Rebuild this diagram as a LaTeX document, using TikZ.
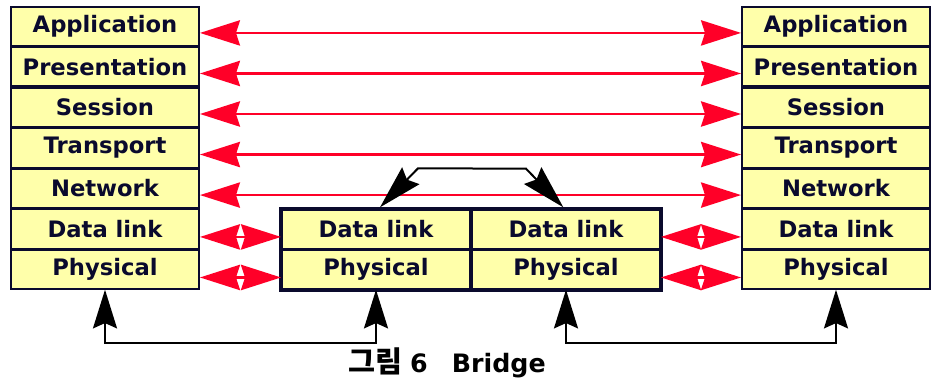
\documentclass[tikz,border=0pt]{standalone}
\usepackage{fontspec}
\setmainfont{DejaVu Sans}
\newfontfamily\krfont{Noto Sans CJK KR}
\usetikzlibrary{arrows.meta,positioning}
\definecolor{layerfill}{RGB}{255,255,170}
\definecolor{layerline}{RGB}{10,10,45}
\definecolor{arrowred}{RGB}{255,0,40}

\begin{document}
\begin{tikzpicture}[
    x=0.75pt, y=-0.75pt,
    node distance=0pt,
    font=\bfseries\fontsize{17}{20}\selectfont,
    layer/.style={
		rectangle,
		draw=layerline,
		line width=1.2pt,
		fill=layerfill,
		text=layerline,
		text centered,
		inner sep=0pt,
		minimum width=141.3pt,
		minimum height=29.2pt
	},
	redarrow/.style={
		draw=arrowred,
		line width=1.6pt,
		{Stealth[length=30pt,width=19pt,inset=3pt]}-{Stealth[length=30pt,width=19pt,inset=3pt]}
	},
	blackarrow/.style={
		draw=black,
		line width=1.5pt,
		{Stealth[length=29pt,width=18pt,inset=4pt]}-{Stealth[length=29pt,width=18pt,inset=4pt]}
	},
	relayarrow/.style={
		draw=black,
		line width=1.5pt,
		{Stealth[length=33pt,width=18pt,inset=4pt]}-{Stealth[length=33pt,width=18pt,inset=4pt]}
	}
  ]
  \useasboundingbox (0,0) rectangle (940,381);

  % left end system
  \node [layer, anchor=north west] (app1) at (10,6) {Application};
  \node [layer, below=of app1] (pre1) {Presentation};
  \node [layer, below=of pre1] (ses1) {Session};
  \node [layer, below=of ses1] (tra1) {Transport};
  \node [layer, below=of tra1] (net1) {Network};
  \node [layer, below=of net1] (dl1) {Data link};
  \node [layer, below=of dl1] (ph1) {Physical};

  % bridge
  \node [layer, right=60.75pt of dl1] (bdl1) {Data link};
  \node [layer, below=of bdl1] (bph1) {Physical};
  \node [layer, right=of bdl1] (bdl2) {Data link};
  \node [layer, below=of bdl2] (bph2) {Physical};
  \draw [draw=layerline, line width=3pt] (bdl1.north west) rectangle (bph2.south east);

  % right end system
  \node [layer, anchor=north west] (app2) at (741,6) {Application};
  \node [layer, below=of app2] (pre2) {Presentation};
  \node [layer, below=of pre2] (ses2) {Session};
  \node [layer, below=of ses2] (tra2) {Transport};
  \node [layer, below=of tra2] (net2) {Network};
  \node [layer, below=of net2] (dl2) {Data link};
  \node [layer, below=of dl2] (ph2) {Physical};

  % peer layers
  \draw [redarrow] ([yshift=-5pt]app1.east) -- ([yshift=-5pt]app2.west);
  \draw [redarrow] ([yshift=-5pt]pre1.east) -- ([yshift=-5pt]pre2.west);
  \draw [redarrow] ([yshift=-5pt]ses1.east) -- ([yshift=-5pt]ses2.west);
  \draw [redarrow] ([yshift=-5pt]tra1.east) -- ([yshift=-5pt]tra2.west);
  \draw [redarrow] ([yshift=-5pt]net1.east) -- ([yshift=-5pt]net2.west);
  \draw [redarrow] ([yshift=-6pt]dl1.east) -- ([yshift=-6pt]bdl1.west);
  \draw [redarrow] ([yshift=-6pt]ph1.east) -- ([yshift=-6pt]bph1.west);
  \draw [redarrow] ([yshift=-6pt]bdl2.east) -- ([yshift=-6pt]dl2.west);
  \draw [redarrow] ([yshift=-6pt]bph2.east) -- ([yshift=-6pt]ph2.west);

  % bridge relay
  \draw [relayarrow] ([xshift=3pt,yshift=1pt]bdl1.north) -- ++(38,-39) -- ([xshift=-30pt,yshift=30pt]bdl2.north) -- ([xshift=-2pt,yshift=1pt]bdl2.north);

  % physical links
  \draw [blackarrow] (ph1.south) -- ++(0,53) -| (bph1.south);
  \draw [blackarrow] (bph2.south) -- ++(0,53) -| (ph2.south);

  \node [font=\bfseries\fontsize{19}{22}\selectfont] (caption) at (447,363) {{\krfont\fontsize{22}{24}\selectfont 그림}\hspace{6pt}6\hspace{18pt}Bridge};
\end{tikzpicture}
\end{document}
